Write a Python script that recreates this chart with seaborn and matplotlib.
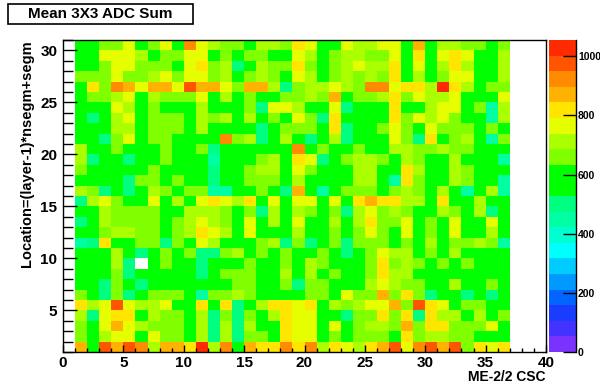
import numpy as np
import pandas as pd
import matplotlib
matplotlib.use("Agg")
import matplotlib.pyplot as plt
from matplotlib.colors import ListedColormap
from matplotlib.patches import Rectangle
import seaborn as sns

# ---------------- data ----------------
title = "Mean 3X3 ADC Sum"
x_label = "ME-2/2 CSC"
y_label = "Location=(layer-1)*nsegm+segm"
chambers = list(range(1, 37))          # x bins 1..36
locations = list(range(30, 0, -1))     # y bins, listed top (30) to bottom (1)
x_ticks = [0, 5, 10, 15, 20, 25, 30, 35, 40]
y_ticks = [5, 10, 15, 20, 25, 30]
z_ticks = [0, 200, 400, 600, 800, 1000]
z_max = 1055
nan = np.nan

row30 = [590,590,660,660,765,590,660,765,590,925,765,710, 660,660,590,710,710,660,820,765,590,590,765,710, 710,765,765,590,870,590,710,710,660,660,590,660]
row29 = [590,590,765,765,765,710,590,660,660,765,765,590, 660,590,660,660,590,590,765,710,590,660,710,710, 660,660,765,590,820,590,765,820,765,590,590,710]
row28 = [590,590,660,765,765,660,660,660,590,765,820,660, 710,500,590,710,660,660,820,660,590,660,710,765, 710,710,820,590,765,590,710,820,710,590,590,710]
row27 = [660,660,660,765,660,660,710,765,660,765,765,660, 710,590,660,710,660,590,765,710,590,660,710,660, 710,660,820,590,710,590,660,765,765,590,590,710]
row26 = [590,820,660,925,870,765,870,870,765,975,870,870, 765,660,870,870,710,500,660,710,710,765,710,660, 925,925,765,820,820,710,1030,820,710,590,660,660]
row25 = [590,660,660,710,765,590,710,660,660,660,765,590, 710,590,660,590,590,660,660,710,660,870,590,660, 660,710,820,660,765,710,710,765,590,590,590,765]
row24 = [590,590,590,765,710,590,660,590,590,590,710,590, 590,590,660,500,765,765,710,590,590,765,500,590, 590,590,820,590,590,710,765,765,590,660,450,710]
row23 = [590,500,590,710,765,590,660,660,660,590,710,660, 710,590,710,590,660,590,765,660,500,820,590,590, 590,590,820,660,765,710,765,660,590,590,450,710]
row22 = [590,590,590,710,710,590,660,660,660,590,710,590, 590,590,590,500,590,660,660,660,590,820,500,590, 590,660,765,660,590,765,660,660,660,590,660,590]
row21 = [590,590,500,660,765,590,660,660,590,590,590,590, 925,660,710,500,590,710,590,500,590,710,500,590, 590,590,765,660,500,820,590,660,710,590,450,660]
row20 = [710,590,590,660,590,590,590,660,590,590,660,500, 590,590,590,590,590,590,925,590,660,590,590,660, 590,590,710,710,660,660,710,660,660,590,590,590]
row19 = [710,500,590,590,500,590,590,660,590,590,590,450, 590,590,590,660,710,590,820,765,500,590,660,710, 710,660,590,710,660,590,590,710,590,590,590,450]
row18 = [660,590,590,590,590,590,660,590,590,590,590,500, 590,590,660,710,710,590,765,660,590,590,590,710, 710,590,590,820,710,590,590,710,660,590,590,590]
row17 = [590,590,590,590,500,660,660,590,660,590,590,500, 590,590,660,660,660,590,710,590,590,590,590,710, 710,590,450,820,660,590,590,710,660,590,590,450]
row16 = [710,660,500,590,500,590,710,660,590,660,660,450, 450,590,590,660,590,500,870,590,450,590,660,660, 660,590,660,710,660,590,710,590,450,590,710,450]
row15 = [500,710,765,660,590,590,765,590,710,590,765,820, 765,710,820,590,765,590,765,765,590,765,590,820, 870,820,820,710,710,590,820,590,590,710,590,590]
row14 = [590,590,710,660,660,660,660,590,590,710,710,710, 660,590,660,500,710,590,710,660,590,660,500,710, 765,660,710,660,590,590,710,660,590,710,500,590]
row13 = [500,590,710,660,660,660,660,590,660,710,765,710, 660,590,765,590,710,590,765,590,590,710,590,710, 820,660,660,765,590,660,590,765,590,590,765,590]
row12 = [590,590,660,710,710,660,660,590,660,710,820,765, 710,590,765,590,590,590,710,590,590,660,590,660, 765,660,590,765,590,660,590,765,590,590,710,590]
row11 = [450,500,820,590,590,660,660,500,660,590,765,710, 590,590,590,660,710,500,660,500,590,660,500,660, 660,660,590,660,590,710,590,660,660,710,660,450]
row10 = [590,590,590,710,590,500,590,660,590,660,500,500, 660,710,590,660,590,660,590,590,660,590,500,590, 660,765,710,710,590,660,590,710,590,590,590,590]
row9  = [590,590,590,710,500,nan,590,660,590,590,500,590, 590,590,660,590,590,660,590,710,660,590,590,590, 660,820,660,710,660,590,660,590,660,590,590,590]
row8  = [590,590,590,660,500,590,590,590,590,590,500,590, 660,660,660,590,590,710,590,710,590,660,590,590, 660,820,710,710,590,590,590,590,590,590,590,590]
row7  = [590,590,500,660,590,500,590,590,590,590,590,590, 590,660,660,590,590,660,500,660,660,590,590,590, 710,765,710,660,660,590,590,710,590,590,660,590]
row6  = [660,590,500,660,500,590,660,660,660,590,450,660, 660,710,660,590,590,590,590,660,660,590,765,660, 660,870,660,820,660,500,590,590,500,590,500,590]
row5  = [820,710,765,975,765,710,710,765,590,590,820,590, 820,500,590,710,820,820,765,820,590,710,660,710, 765,765,870,660,975,820,765,590,660,660,590,590]
row4  = [710,500,765,820,820,590,710,660,660,590,710,500, 660,500,660,590,710,820,765,765,590,590,500,660, 660,820,660,820,500,820,710,710,590,710,590,660]
row3  = [660,590,765,870,765,710,660,660,660,590,710,500, 710,500,710,590,590,820,765,765,590,765,590,660, 710,710,660,870,660,820,820,660,660,660,765,590]
row2  = [660,590,710,765,765,590,765,660,660,590,710,500, 710,500,660,660,590,820,765,765,590,660,590,660, 660,660,590,820,660,710,710,660,660,590,590,590]
row1  = [870,590,975,870,975,925,710,870,870,820,1030,710, 925,590,870,820,820,925,820,925,710,820,765,710, 820,870,975,765,925,975,870,975,660,820,765,820]

rows = [row30, row29, row28, row27, row26, row25, row24, row23, row22, row21,
        row20, row19, row18, row17, row16, row15, row14, row13, row12, row11,
        row10, row9, row8, row7, row6, row5, row4, row3, row2, row1]

# ROOT-like 20 level palette (violet -> red)
palette = ["#7a33ff", "#4433ff", "#1a3cff", "#0066ff", "#0099ff",
           "#00ccff", "#00ffff", "#00ffd0", "#00ffa0", "#00ff80",
           "#00ff00", "#00ff00", "#80ff00", "#aaff00", "#e5ff00",
           "#ffe500", "#ffb300", "#ff8c00", "#ff5500", "#ff2a00"]

# ---------------- build grid on the numeric axis ----------------
grid = np.full((31, 40), np.nan)
for loc, row in zip(locations, rows):
    grid[loc, chambers] = row
df = pd.DataFrame(grid, index=range(31), columns=range(40))

plt.rcParams["font.family"] = ["Liberation Sans", "DejaVu Sans"]
plt.rcParams["font.weight"] = "bold"

fig = plt.figure(figsize=(6, 3.88), dpi=100)
ax = fig.add_axes([63 / 600, 36 / 388, 483 / 600, 312 / 388])
cax = fig.add_axes([549 / 600, 36 / 388, 27 / 600, 312 / 388])

cmap = ListedColormap(palette)
sns.heatmap(df, ax=ax, cbar_ax=cax, cmap=cmap, vmin=0, vmax=z_max,
            xticklabels=False, yticklabels=False, linewidths=0)

ax.set_xlim(0, 40)
ax.set_ylim(1, 31)
ax.set_xlabel("")
ax.set_ylabel("")
for s in ax.spines.values():
    s.set_visible(True)
    s.set_color("black")
    s.set_linewidth(1)

ax.set_xticks(x_ticks)
ax.set_xticklabels([str(t) for t in x_ticks])
ax.set_xticks(np.arange(0, 41, 1), minor=True)
ax.set_yticks(y_ticks)
ax.set_yticklabels([str(t) for t in y_ticks])
ax.set_yticks(np.arange(1, 32, 1), minor=True)
ax.tick_params(axis="x", which="major", direction="in", length=5, width=1,
               labelsize=11, pad=3, top=False, bottom=True)
ax.tick_params(axis="x", which="minor", direction="in", length=3, width=1,
               top=False, bottom=True)
ax.tick_params(axis="y", which="major", direction="in", length=10, width=1,
               labelsize=11, pad=4, left=True, right=False)
ax.tick_params(axis="y", which="minor", direction="in", length=7.5, width=1,
               left=True, right=False)
for t in ax.get_xticklabels() + ax.get_yticklabels():
    t.set_fontweight("bold")

# colorbar styling
cbar = ax.collections[0].colorbar
cbar.set_ticks(z_ticks)
cbar.set_ticklabels([str(t) for t in z_ticks])
cbar.outline.set_visible(False)
cax.minorticks_off()
cax.tick_params(axis="y", direction="in", length=9.5, width=1, pad=1.5,
                labelsize=7.5, right=True, left=False, labelright=True)
for t in cax.get_yticklabels():
    t.set_fontweight("bold")
cax.plot([1, 1], [0, 1], transform=cax.transAxes, color="black", lw=1,
         clip_on=False)

# title box
fig.patches.append(Rectangle((8 / 600, 1 - 24 / 388), 185 / 600, 20 / 388,
                             transform=fig.transFigure, facecolor="white",
                             edgecolor="black", lw=1.2))
fig.text(100.5 / 600, 1 - 14 / 388, title, ha="center", va="center",
         fontsize=11, fontweight="bold")

# axis titles
fig.text(546 / 600, 1 - 377 / 388, x_label, ha="right", va="center",
         fontsize=10, fontweight="bold")
fig.text(27 / 600, 1 - 40 / 388, y_label, ha="center", va="top",
         rotation=90, fontsize=10.5, fontweight="bold")

fig.savefig("out.png", dpi=100)
